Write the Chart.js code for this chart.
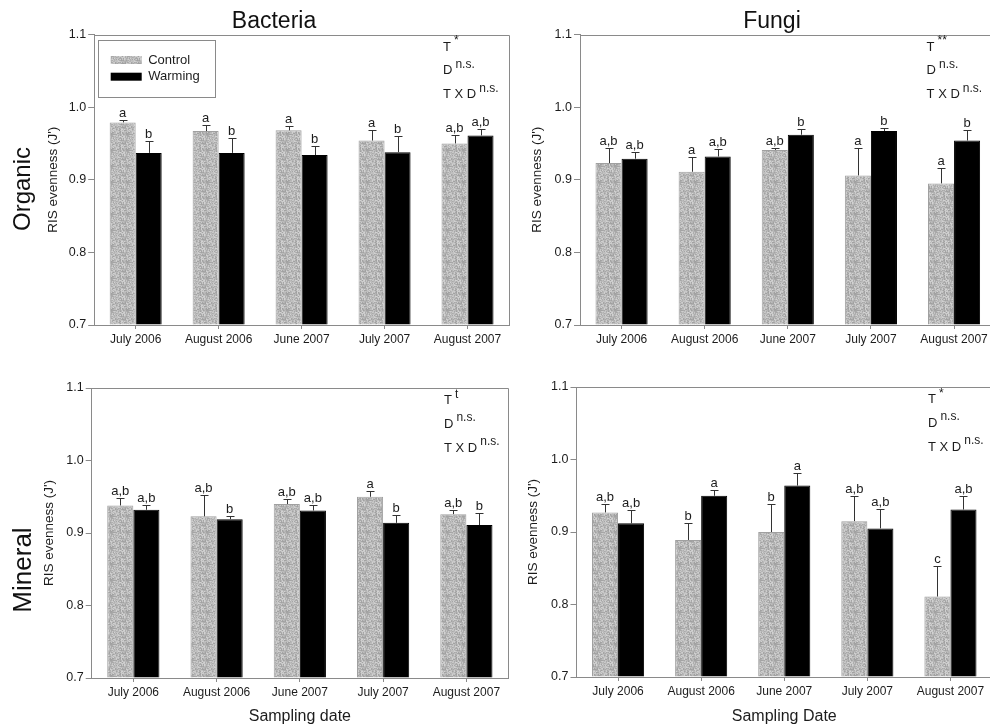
<!DOCTYPE html>
<html>
<head>
<meta charset="utf-8">
<script src="https://cdn.jsdelivr.net/npm/chart.js@4.4.1/dist/chart.umd.min.js"></script>
<style>
  body { margin: 0; width: 990px; height: 728px; overflow: hidden; background: #fff; position: relative;
         font-family: "Liberation Sans", Arial, sans-serif; }
  .box { position: absolute; }
  .lbl { position: absolute; color: #111; white-space: nowrap; line-height: 1; transform: translate(-50%, -50%); }
  .rot { transform: translate(-50%, -50%) rotate(-90deg); }
</style>
</head>
<body>
<div class="box" style="left:0;top:0"><canvas id="orgBac" width="520" height="350"></canvas></div>
<div class="box" style="left:520px;top:0"><canvas id="orgFun" width="480" height="350"></canvas></div>
<div class="box" style="left:0;top:350px"><canvas id="minBac" width="520" height="378"></canvas></div>
<div class="box" style="left:520px;top:350px"><canvas id="minFun" width="480" height="378"></canvas></div>

<div class="lbl" style="left:274px;top:20px;font-size:23px">Bacteria</div>
<div class="lbl" style="left:772px;top:20px;font-size:23px">Fungi</div>
<div class="lbl rot" style="left:22px;top:189px;font-size:24px">Organic</div>
<div class="lbl rot" style="left:22px;top:570px;font-size:26px">Mineral</div>

<script>
// sampling dates
const dates = ['July 2006', 'August 2006', 'June 2007', 'July 2007', 'August 2007'];
const yTicks = [0.7, 0.8, 0.9, 1.0, 1.1];

// organic layer, bacteria
const orgBacControl = [0.979, 0.967, 0.968, 0.954, 0.950];
const orgBacControlSE = [0.003, 0.008, 0.006, 0.014, 0.011];
const orgBacWarming = [0.937, 0.937, 0.934, 0.938, 0.961];
const orgBacWarmingSE = [0.017, 0.021, 0.012, 0.022, 0.009];
const orgBacControlLetters = ['a', 'a', 'a', 'a', 'a,b'];
const orgBacWarmingLetters = ['b', 'b', 'b', 'b', 'a,b'];
const orgBacStats = ['*', 'n.s.', 'n.s.'];

// organic layer, fungi
const orgFunControl = [0.923, 0.911, 0.941, 0.906, 0.895];
const orgFunControlSE = [0.021, 0.020, 0.003, 0.038, 0.021];
const orgFunWarming = [0.929, 0.932, 0.962, 0.967, 0.954];
const orgFunWarmingSE = [0.009, 0.011, 0.008, 0.004, 0.015];
const orgFunControlLetters = ['a,b', 'a', 'a,b', 'a', 'a'];
const orgFunWarmingLetters = ['a,b', 'a,b', 'b', 'b', 'b'];
const orgFunStats = ['**', 'n.s.', 'n.s.'];

// mineral layer, bacteria
const minBacControl = [0.938, 0.923, 0.940, 0.950, 0.926];
const minBacControlSE = [0.010, 0.029, 0.007, 0.008, 0.006];
const minBacWarming = [0.932, 0.919, 0.931, 0.914, 0.911];
const minBacWarmingSE = [0.006, 0.004, 0.008, 0.011, 0.016];
const minBacControlLetters = ['a,b', 'a,b', 'a,b', 'a', 'a,b'];
const minBacWarmingLetters = ['a,b', 'b', 'a,b', 'b', 'b'];
const minBacStats = ['t', 'n.s.', 'n.s.'];

// mineral layer, fungi
const minFunControl = [0.927, 0.889, 0.900, 0.915, 0.811];
const minFunControlSE = [0.011, 0.024, 0.039, 0.034, 0.042];
const minFunWarming = [0.912, 0.950, 0.964, 0.905, 0.931];
const minFunWarmingSE = [0.019, 0.008, 0.017, 0.027, 0.019];
const minFunControlLetters = ['a,b', 'b', 'b', 'a,b', 'c'];
const minFunWarmingLetters = ['a,b', 'a', 'a', 'a,b', 'a,b'];
const minFunStats = ['*', 'n.s.', 'n.s.'];

const FONT = '"Liberation Sans", Arial, sans-serif';
const INK = '#1c1c1c';
const AXIS = '#8a8a8a';

// speckled grey fill like the original control bars (hashed texture, not data)
function stipple(ctx) {
  const n = 16;
  const c = document.createElement('canvas');
  c.width = n; c.height = n;
  const g = c.getContext('2d');
  for (let x = 0; x < n; x++) {
    for (let y = 0; y < n; y++) {
      let h = Math.imul(x + 11, 374761393) ^ Math.imul(y + 7, 668265263);
      h = Math.imul(h ^ (h >>> 13), 1274126177);
      h = (h ^ (h >>> 16)) >>> 0;
      const s = 160 + (h % 52);
      g.fillStyle = 'rgb(' + s + ',' + s + ',' + s + ')';
      g.fillRect(x, y, 1, 1);
    }
  }
  return ctx.createPattern(c, 'repeat');
}

// top + right frame lines
const frame = {
  id: 'frame',
  afterDraw(chart) {
    const { ctx, chartArea: a } = chart;
    ctx.save();
    ctx.strokeStyle = AXIS;
    ctx.lineWidth = 1;
    ctx.beginPath();
    ctx.moveTo(a.left, Math.round(a.top) + 0.5);
    ctx.lineTo(Math.round(a.right) + 0.5, Math.round(a.top) + 0.5);
    ctx.lineTo(Math.round(a.right) + 0.5, a.bottom);
    ctx.stroke();
    ctx.restore();
  }
};

// one-sided error bars + significance letters
const errorBars = {
  id: 'errorBars',
  afterDatasetsDraw(chart) {
    const ctx = chart.ctx, y = chart.scales.y;
    chart.data.datasets.forEach((ds, i) => {
      chart.getDatasetMeta(i).data.forEach((bar, j) => {
        const top = Math.round(y.getPixelForValue(ds.data[j] + ds.se[j])) + 0.5;
        const x = Math.round(bar.x) + 0.5;
        ctx.save();
        ctx.strokeStyle = '#333';
        ctx.lineWidth = 1;
        ctx.beginPath();
        ctx.moveTo(x, bar.y);
        ctx.lineTo(x, top);
        ctx.moveTo(x - 4, top);
        ctx.lineTo(x + 4, top);
        ctx.stroke();
        ctx.fillStyle = INK;
        ctx.font = '13px ' + FONT;
        ctx.textAlign = 'center';
        ctx.textBaseline = 'alphabetic';
        ctx.fillText(ds.letters[j], bar.x, top - 4);
        ctx.restore();
      });
    });
  }
};

// T / D / T X D significance block
const stats = {
  id: 'stats',
  afterDraw(chart, args, o) {
    const { ctx, chartArea: a } = chart;
    const x = a.right - o.dx;
    const heads = ['T', 'D', 'T X D'];
    ctx.save();
    ctx.fillStyle = INK;
    ctx.textAlign = 'left';
    ctx.textBaseline = 'middle';
    heads.forEach((h, k) => {
      const yy = a.top + o.rows[k];
      ctx.font = '13px ' + FONT;
      ctx.fillText(h, x, yy);
      const w = ctx.measureText(h).width;
      ctx.font = '12px ' + FONT;
      ctx.fillText(o.marks[k], x + w + 3, yy - 6);
    });
    ctx.restore();
  }
};

// legend drawn inside the plot, top left
const boxLegend = {
  id: 'boxLegend',
  afterDraw(chart, args, o) {
    if (!o.show) return;
    const { ctx, chartArea: a } = chart;
    const bx = a.left + 4, by = a.top + 5.5;
    ctx.save();
    ctx.fillStyle = '#fff';
    ctx.fillRect(bx, by, 117, 57);
    ctx.strokeStyle = AXIS;
    ctx.lineWidth = 1;
    ctx.strokeRect(Math.round(bx) + 0.5, Math.round(by) + 0.5, 117, 57);
    chart.data.datasets.forEach((ds, i) => {
      const cy = by + 20 + i * 16.7;
      ctx.fillStyle = ds.backgroundColor;
      ctx.fillRect(bx + 12.5, cy - 4, 31, 8);
      ctx.fillStyle = INK;
      ctx.font = '13px ' + FONT;
      ctx.textBaseline = 'middle';
      ctx.fillText(ds.label, bx + 50, cy);
    });
    ctx.restore();
  }
};

function panel(id, g, d) {
  const canvas = document.getElementById(id);
  const ctx = canvas.getContext('2d');
  return new Chart(ctx, {
    type: 'bar',
    data: {
      labels: dates,
      datasets: [{
        label: 'Control',
        data: d.control,
        se: d.controlSE,
        letters: d.controlLetters,
        backgroundColor: stipple(ctx),
        borderColor: '#a0a0a0',
        borderWidth: 1,
        base: 0.7,
        categoryPercentage: 0.627,
        barPercentage: 1
      }, {
        label: 'Warming',
        data: d.warming,
        se: d.warmingSE,
        letters: d.warmingLetters,
        backgroundColor: '#000',
        borderColor: '#000',
        borderWidth: 1,
        base: 0.7,
        categoryPercentage: 0.627,
        barPercentage: 1
      }]
    },
    options: {
      responsive: false,
      animation: false,
      layout: { padding: { top: g.top, right: g.right, left: 0, bottom: 0 } },
      plugins: {
        legend: { display: false },
        tooltip: { enabled: false },
        stats: { dx: g.statsDx, rows: [12.5, 36, 60], marks: d.stats },
        boxLegend: { show: !!g.legend }
      },
      scales: {
        x: {
          afterFit: (s) => { s.height = g.xh; },
          grid: { offset: false, drawOnChartArea: false, drawTicks: true, tickLength: 4, color: AXIS },
          border: { display: true, color: AXIS, width: 1 },
          ticks: { color: INK, font: { family: FONT, size: 12 }, padding: 3, maxRotation: 0, autoSkip: false },
          title: {
            display: !!g.xTitle, text: g.xTitle || '', color: INK,
            font: { family: FONT, size: 16 }, padding: { top: 0, bottom: 1.4 }
          }
        },
        y: {
          min: yTicks[0],
          max: yTicks[yTicks.length - 1],
          afterFit: (s) => { s.width = g.yw; },
          afterBuildTicks: (s) => { s.ticks = yTicks.map(v => ({ value: v })); },
          grid: { drawOnChartArea: false, drawTicks: true, tickLength: 6, color: AXIS },
          border: { display: true, color: AXIS, width: 1 },
          ticks: { color: INK, font: { family: FONT, size: 12.5 }, padding: 2, callback: (v) => Number(v).toFixed(1) },
          title: {
            display: true, text: "RIS evenness (J')", color: INK,
            font: { family: FONT, size: 13.5 }, padding: { top: g.yTitlePad, bottom: 0 }
          }
        }
      }
    },
    plugins: [frame, errorBars, stats, boxLegend]
  });
}

panel('orgBac',
  { top: 34.5, right: 11, yw: 94.2, xh: 25, yTitlePad: 45, statsDx: 66, legend: true },
  { control: orgBacControl, controlSE: orgBacControlSE, controlLetters: orgBacControlLetters,
    warming: orgBacWarming, warmingSE: orgBacWarmingSE, warmingLetters: orgBacWarmingLetters, stats: orgBacStats });

panel('orgFun',
  { top: 34.5, right: 4.4, yw: 60, xh: 25, yTitlePad: 9, statsDx: 69 },
  { control: orgFunControl, controlSE: orgFunControlSE, controlLetters: orgFunControlLetters,
    warming: orgFunWarming, warmingSE: orgFunWarmingSE, warmingLetters: orgFunWarmingLetters, stats: orgFunStats });

panel('minBac',
  { top: 38, right: 12, yw: 91.7, xh: 50, yTitlePad: 41.4, statsDx: 64, xTitle: 'Sampling date' },
  { control: minBacControl, controlSE: minBacControlSE, controlLetters: minBacControlLetters,
    warming: minBacWarming, warmingSE: minBacWarmingSE, warmingLetters: minBacWarmingLetters, stats: minBacStats });

panel('minFun',
  { top: 37, right: 8, yw: 56.5, xh: 51, yTitlePad: 5, statsDx: 64, xTitle: 'Sampling Date' },
  { control: minFunControl, controlSE: minFunControlSE, controlLetters: minFunControlLetters,
    warming: minFunWarming, warmingSE: minFunWarmingSE, warmingLetters: minFunWarmingLetters, stats: minFunStats });
</script>
</body>
</html>
